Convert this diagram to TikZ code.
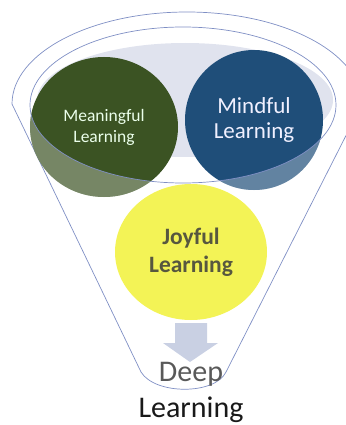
\documentclass[tikz,border=0pt]{standalone}
\usepackage{fontspec}
\setmainfont{Carlito}
\usepackage{tikz}
\usetikzlibrary{shapes.geometric}

\definecolor{rimline}{HTML}{7F8FC4}
\definecolor{rimfill}{HTML}{E0E3EE}
\definecolor{mgreen}{HTML}{3B5323}
\definecolor{mblue}{HTML}{1F4E79}
\definecolor{jyellow}{HTML}{F3F356}
\definecolor{jtext}{HTML}{57573F}
\definecolor{arrowfill}{HTML}{C9D0E3}

\begin{document}
\begin{tikzpicture}[x=1pt, y=-1pt,
  funnel/.style={draw=rimline, line width=0.7pt},
  bubble/.style={ellipse, inner sep=0pt, align=center}]

\useasboundingbox (0,0) rectangle (345,425);

% Funnel outline
\draw[funnel] (12,104) -- (141,372)
  .. controls (155,395) and (215,395) .. (226,372)
  -- (362,104) arc[start angle=0, end angle=-180, x radius=175, y radius=92];

% Rim
\fill[rimfill] (185,100) ellipse (148 and 57);

% Bubbles
\node[bubble, fill=mgreen, text=white!92!green, minimum width=148pt, minimum height=140pt,
  font=\fontsize{17.5}{21}\selectfont] (meaning) at (104,127) {Meaningful\\Learning};
\node[bubble, fill=mblue, text=white!94!blue, minimum width=138pt, minimum height=140pt,
  font=\fontsize{23}{25}\selectfont] (mind) at (254,120) {Mindful\\Learning};

% lighter where the bubbles hang out of the rim
\begin{scope}
\clip (104,127) ellipse (74 and 70) (254,120) ellipse (69 and 70);
\fill[white, opacity=0.3, even odd rule] (0,0) rectangle (345,425) (183,105) ellipse (153 and 78);
\end{scope}

\draw[funnel] (183,105) ellipse (153 and 78);

\node[bubble, fill=jyellow, text=jtext, minimum width=152pt, minimum height=136pt,
  font=\bfseries\fontsize{23.5}{28}\selectfont] (joy) at (191,252) {Joyful\\Learning};

% Arrow down
\fill[arrowfill] (175,323) -- (207,323) -- (207,343) -- (218,343) -- (190,362)
  -- (163,343) -- (175,343) -- cycle;

% Result
\node[anchor=base, text=black!65, font=\fontsize{30}{36}\selectfont] (deep) at (191,381) {Deep};
\node[anchor=base, text=black!90, font=\fontsize{30}{36}\selectfont] (learn) at (191,417) {Learning};

\end{tikzpicture}
\end{document}
